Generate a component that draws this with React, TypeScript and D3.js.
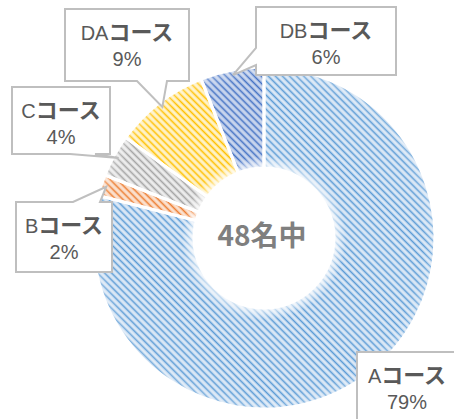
import * as d3 from "d3";

// data
const courses = ["A", "B", "C", "DA", "DB"];
const shares = [79, 2, 4, 9, 6];
const totalLabel = "48名中";

const stripeColors = ["#5b9bd5", "#ed7d31", "#a5a5a5", "#ffc000", "#4472c4"];
const baseColors = ["#dbe8f6", "#fbe1cf", "#ececec", "#fff3c8", "#c9d6ee"];

// label callout boxes (layout only)
const boxes = [
  { x: 357, y: 352, w: 110, h: 80, side: "none", b0: 0, b1: 0 },
  { x: 16, y: 202, w: 96, h: 70, side: "top", b0: 73, b1: 100 },
  { x: 12, y: 87, w: 98, h: 67, side: "bottom", b0: 70, b1: 95 },
  { x: 65, y: 9, w: 124, h: 72, side: "bottom", b0: 137, b1: 167 },
  { x: 256, y: 7, w: 140, h: 68, side: "left", b0: 48, b1: 65 },
];

const W = 454;
const H = 419;
const cx = 264;
const cy = 238;
const outerR = 171;
const innerR = 70;

const cjk = "'Noto Sans CJK JP', sans-serif";
const latin = "'Liberation Sans', Arial, sans-serif";

function callout(b: any, tip: [number, number]) {
  const { x, y, w, h, side, b0, b1 } = b;
  const r = x + w;
  const btm = y + h;
  const [tx, ty] = tip;
  if (side === "top")
    return `M${x},${y}L${b0},${y}L${tx},${ty}L${b1},${y}L${r},${y}L${r},${btm}L${x},${btm}Z`;
  if (side === "bottom")
    return `M${x},${y}L${r},${y}L${r},${btm}L${b1},${btm}L${tx},${ty}L${b0},${btm}L${x},${btm}Z`;
  if (side === "left")
    return `M${x},${y}L${r},${y}L${r},${btm}L${x},${btm}L${x},${b1}L${tx},${ty}L${x},${b0}Z`;
  return `M${x},${y}L${r},${y}L${r},${btm}L${x},${btm}Z`;
}

export default function App() {
  const pie = d3.pie<number>().sort(null).value((d) => d);
  const arcs = pie(shares);
  const arc = d3.arc<d3.PieArcDatum<number>>().innerRadius(innerR).outerRadius(outerR);

  return (
    <svg
      width={W}
      height={H}
      style={{ position: "absolute", left: 0, top: 0, background: "#fff" }}
    >
      <defs>
        {stripeColors.map((c, i) => (
          <pattern
            key={i}
            id={`stripe${i}`}
            width={5}
            height={5}
            patternUnits="userSpaceOnUse"
            patternTransform="rotate(45)"
          >
            <rect width={5} height={5} fill={baseColors[i]} />
            <line x1={0} y1={2.5} x2={5} y2={2.5} stroke={c} strokeWidth={1.6} />
          </pattern>
        ))}
        <radialGradient id="shade" gradientUnits="userSpaceOnUse" cx={0} cy={0} r={outerR}>
          <stop offset={innerR / outerR} stopColor="#fff" stopOpacity={0.8} />
          <stop offset={(innerR + 12) / outerR} stopColor="#fff" stopOpacity={0} />
          <stop offset={0.93} stopColor="#fff" stopOpacity={0} />
          <stop offset={1} stopColor="#fff" stopOpacity={0.25} />
        </radialGradient>
      </defs>

      <g transform={`translate(${cx},${cy})`}>
        {arcs.map((a, i) => (
          <path key={i} d={arc(a) || ""} fill={`url(#stripe${i})`} />
        ))}
        {arcs.map((a, i) => (
          <path
            key={"s" + i}
            d={arc(a) || ""}
            fill="url(#shade)"
            stroke="#fff"
            strokeWidth={3}
          />
        ))}
        <text
          x={-2}
          y={8}
          textAnchor="middle"
          fontFamily={cjk}
          fontSize={28}
          fontWeight="bold"
          fill="#7f7f7f"
        >
          {totalLabel}
        </text>
      </g>

      {arcs.map((a, i) => {
        const mid = (a.startAngle + a.endAngle) / 2;
        const rr = outerR * 0.97;
        const tip: [number, number] = [cx + rr * Math.sin(mid), cy - rr * Math.cos(mid)];
        const b = boxes[i];
        const tx = i === 0 ? 407 : b.x + b.w / 2;
        return (
          <g key={"l" + i}>
            <path d={callout(b, tip)} fill="#fff" stroke="#bfbfbf" strokeWidth={2} />
            <text
              x={tx}
              y={b.y + 31}
              textAnchor="middle"
              fontFamily={latin}
              fontSize={20}
              fill="#595959"
            >
              <tspan>{courses[i]}</tspan>
              <tspan fontFamily={cjk} fontSize={22} fontWeight="bold">
                コース
              </tspan>
            </text>
            <text
              x={tx}
              y={b.y + 57}
              textAnchor="middle"
              fontFamily={latin}
              fontSize={20}
              fill="#595959"
            >
              {shares[i]}%
            </text>
          </g>
        );
      })}
    </svg>
  );
}
